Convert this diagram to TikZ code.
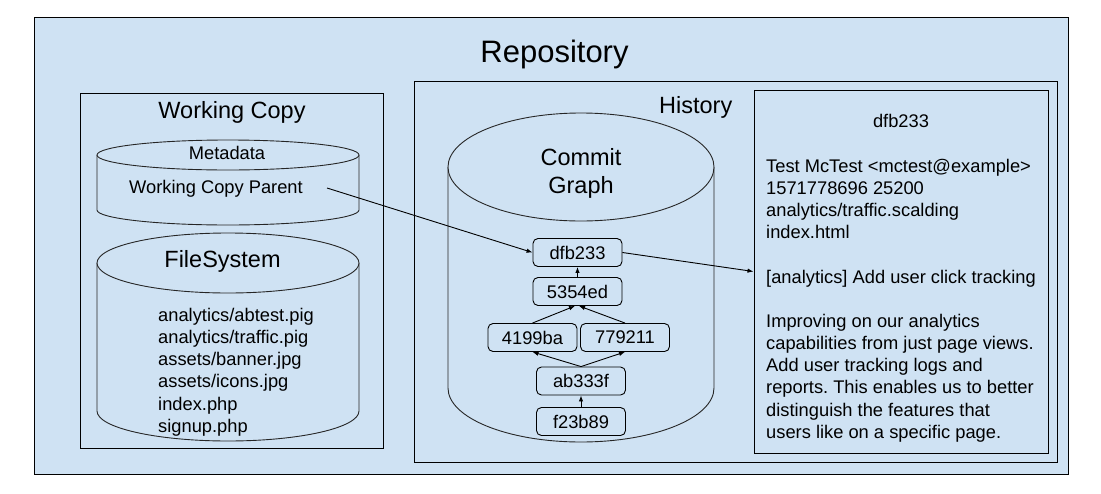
\documentclass[tikz,border=0pt]{standalone}
\usepackage{fontspec}
\setmainfont{Liberation Sans}
\usetikzlibrary{arrows.meta,calc}
\definecolor{bluefill}{HTML}{CFE2F3}
\frenchspacing
\newcommand\mycyl[5]{%
  \fill[bluefill] ({#1-#4},#2) -- ({#1-#4},#3) arc[start angle=180,end angle=360,x radius=#4pt,y radius=#5pt] -- ({#1+#4},#2) -- cycle;
  \draw[cylline] ({#1-#4},#2) -- ({#1-#4},#3) arc[start angle=180,end angle=360,x radius=#4pt,y radius=#5pt] -- ({#1+#4},#2);
  \draw[cylline,fill=bluefill] (#1,#2) ellipse[x radius=#4pt,y radius=#5pt];
}
\tikzset{
  boxline/.style={draw=black,line width=1pt,fill=bluefill},
  cylline/.style={draw=black!85,line width=0.9pt},
  txt/.style={font=\fontsize{18.3}{22.3}\selectfont,inner sep=0pt,anchor=base},
  bigtxt/.style={font=\fontsize{23.5}{28}\selectfont,inner sep=0pt,anchor=base},
  commit/.style={draw=black,line width=0.9pt,fill=bluefill,rounded corners=5pt,minimum width=89pt,minimum height=28pt,inner sep=0pt,font=\fontsize{18.3}{22.3}\selectfont},
  arr/.style={draw=black,line width=0.9pt,-{Latex[length=6pt,width=4.5pt]}}
}
\begin{document}
\begin{tikzpicture}[x=1pt,y=-1pt]
\useasboundingbox (0,0) rectangle (1101,493);
% Repository
\draw[boxline] (34,17) rectangle (1068,474);
\node[txt,font=\fontsize{31}{36}\selectfont] (repo) at (554.5,62) {Repository};
% Working copy
\draw[boxline] (80,93) rectangle (383,448);
\node[bigtxt] (wctitle) at (232,118) {Working Copy};
\mycyl{228}{155}{210}{131}{15}
\node[txt] (meta) at (227,159) {Metadata};
\node[txt,anchor=base west] (wcp) at (129,193) {Working Copy Parent};
\coordinate (wcpout) at (327,188);
\mycyl{228}{263}{411}{131}{30}
\node[bigtxt] (fs) at (222.5,267) {FileSystem};
\foreach \s [count=\i] in {analytics/abtest.pig,analytics/traffic.pig,assets/banner.jpg,assets/icons.jpg,index.php,signup.php}
  \node[txt,anchor=base west] (fs\i) at (158,{321+22.3*(\i-1)}) {\s};
% History
\draw[boxline] (414,81) rectangle (1057,462);
\node[bigtxt,anchor=base west] (hist) at (659,113) {History};
\mycyl{581}{167}{388}{133}{54}
\node[bigtxt] (cg1) at (581,165) {Commit};
\node[bigtxt] (cg2) at (581,193) {Graph};
% commits
\node[commit] (c1) at (577.5,252.5) {dfb233};
\node[commit] (c2) at (577.5,291.5) {5354ed};
\node[commit] (c3) at (532.5,337.5) {4199ba};
\node[commit] (c4) at (625,337.5) {779211};
\node[commit] (c5) at (581,381) {ab333f};
\node[commit] (c6) at (581,421.5) {f23b89};
% details box
\node[boxline,minimum width=294pt,minimum height=363pt,inner sep=0pt] (det) at (901,271.5) {};
\node[txt] (dh) at (901,127) {dfb233};
\node[txt,anchor=base west] (d1) at (766,172) {Test McTest <mctest@example>};
\node[txt,anchor=base west] (d2) at (766,194) {1571778696 25200};
\node[txt,anchor=base west] (d3) at (766,216) {analytics/traffic.scalding};
\node[txt,anchor=base west] (d4) at (766,238) {index.html};
\node[txt,anchor=base west] (d5) at (766,283) {[analytics] Add user click tracking};
\node[txt,anchor=base west] (d6) at (766,327) {Improving on our analytics};
\node[txt,anchor=base west] (d7) at (766,349.3) {capabilities from just page views.};
\node[txt,anchor=base west] (d8) at (766,371.6) {Add user tracking logs and};
\node[txt,anchor=base west] (d9) at (766,393.9) {reports. This enables us to better};
\node[txt,anchor=base west] (d10) at (766,416.2) {distinguish the features that};
\node[txt,anchor=base west] (d11) at (766,438.5) {users like on a specific page.};
% arrows
\draw[arr] (wcpout) -- (c1.west);
\draw[arr] (c1.east) -- (det.west);
\draw[arr] (c2.north) -- (c1.south);
\draw[arr] (c3.north) -- ($(c2.south)+(-2.5,0)$);
\draw[arr] (c4.north) -- ($(c2.south)+(1.5,0)$);
\draw[arr] (c5.north) -- (c3.south);
\draw[arr] (c5.north) -- (c4.south);
\draw[arr] (c6.north) -- (c5.south);
\end{tikzpicture}
\end{document}
